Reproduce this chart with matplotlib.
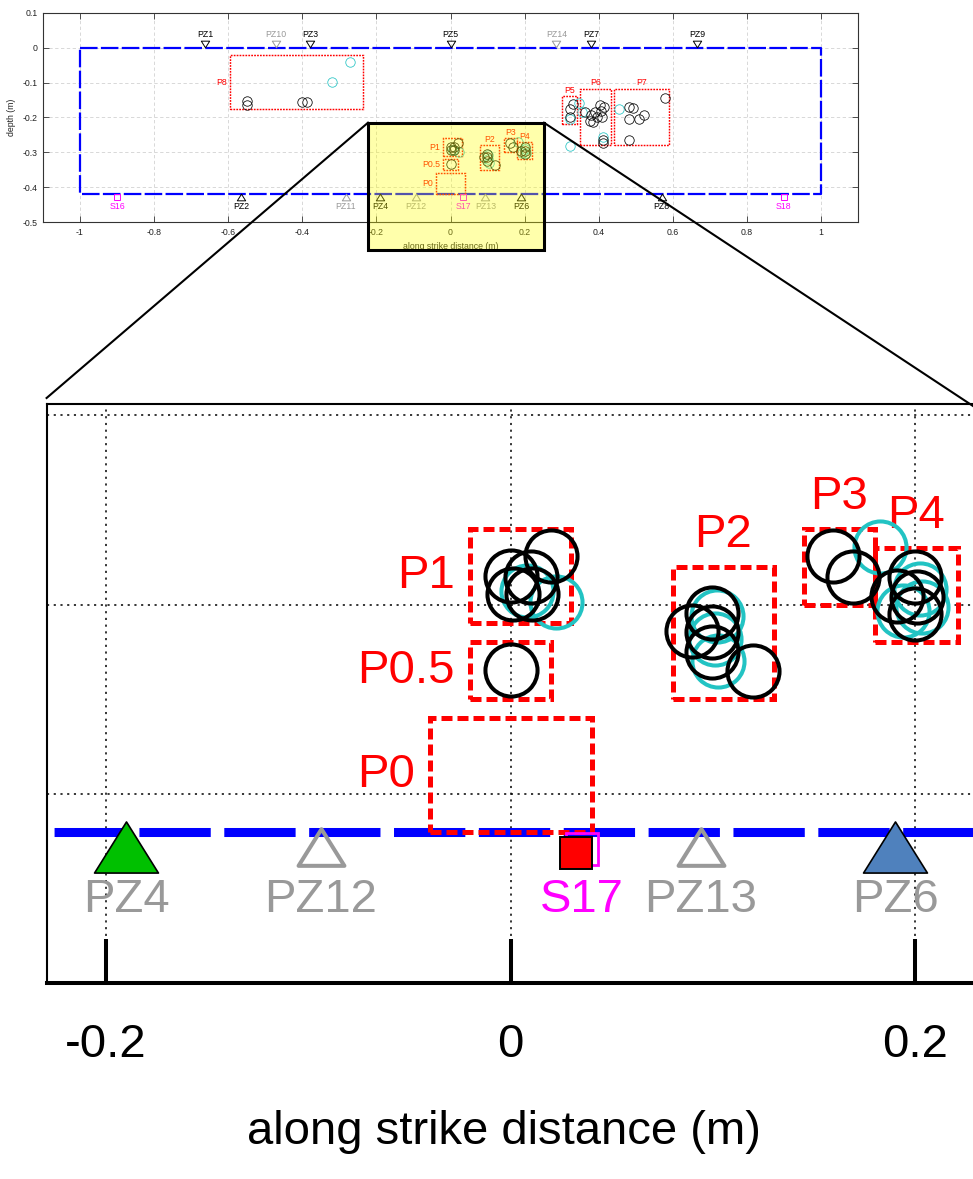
import numpy as np
import matplotlib
matplotlib.use("Agg")
import matplotlib.pyplot as plt
from matplotlib.path import Path
from matplotlib.patches import Rectangle
from matplotlib.lines import Line2D
from matplotlib.ticker import MultipleLocator, FuncFormatter
from matplotlib.transforms import ScaledTranslation

plt.rcParams["font.family"] = ["Liberation Sans", "DejaVu Sans"]
plt.rcParams["axes.unicode_minus"] = False

# ---------------- data ----------------
# outline of the instrumented fault patch (along strike x, depth y)
plane_x = [-1.0, 1.0, 1.0, -1.0, -1.0]
plane_y = [0.0, 0.0, -0.42, -0.42, 0.0]

# sensors on the upper edge
upper_names = ["PZ1", "PZ10", "PZ3", "PZ5", "PZ14", "PZ7", "PZ9"]
upper_x = [-0.662, -0.472, -0.378, 0.0, 0.286, 0.379, 0.665]
upper_y = 0.01
upper_label_y = 0.037

# sensors on the lower edge
lower_names = ["PZ2", "PZ11", "PZ4", "PZ12", "PZ13", "PZ6", "PZ8"]
lower_x = [-0.566, -0.283, -0.19, -0.094, 0.094, 0.19, 0.57]
lower_y = -0.428
lower_label_y = -0.456

# sensors that were not recording
idle_sensors = ["PZ10", "PZ14", "PZ11", "PZ12", "PZ13"]
# sensors picked out in the detail view
picked_sensors = ["PZ4", "PZ6"]

# active sources
source_names = ["S16", "S17", "S18"]
source_x = [-0.9, 0.035, 0.9]
source_y = -0.429
active_source_x = [0.0324]
active_source_y = [-0.4313]

# event patches
patch_names = ["P0", "P0.5", "P1", "P2", "P3", "P4", "P5", "P6", "P7", "P8"]
patch_xmin = [-0.04, -0.02, -0.02, 0.08, 0.145, 0.18, 0.301, 0.350, 0.440, -0.596]
patch_xmax = [0.04, 0.02, 0.03, 0.13, 0.180, 0.221, 0.341, 0.433, 0.590, -0.236]
patch_ymin = [-0.42, -0.35, -0.31, -0.35, -0.30, -0.32, -0.220, -0.278, -0.278, -0.177]
patch_ymax = [-0.36, -0.32, -0.26, -0.28, -0.26, -0.27, -0.138, -0.117, -0.117, -0.020]
patch_label_side = ["left", "left", "left", "top", "top", "top", "top", "top", "top", "left"]

# located events (black) and events of the second catalogue (cyan)
event_x = [-0.548, -0.548, -0.400, -0.388,
           0.0, 0.0099, 0.0013, 0.0104, 0.0198,
           0.0,
           0.0997, 0.0898, 0.0997, 0.0997, 0.1199,
           0.1595, 0.1694,
           0.1999, 0.1908, 0.2007, 0.1999,
           0.332, 0.323, 0.322,
           0.364, 0.379, 0.3755, 0.391, 0.3954, 0.404, 0.406, 0.409, 0.386, 0.415, 0.4115, 0.4115,
           0.483, 0.4924, 0.481, 0.5085, 0.521, 0.481, 0.5795]
event_y = [-0.152, -0.165, -0.155, -0.155,
           -0.2847, -0.2856, -0.2944, -0.2944, -0.2741,
           -0.3348,
           -0.3046, -0.3141, -0.3146, -0.3252, -0.3352,
           -0.2741, -0.2852,
           -0.2852, -0.2953, -0.2962, -0.3049,
           -0.161, -0.177, -0.200,
           -0.184, -0.193, -0.2095, -0.184, -0.200, -0.164, -0.181, -0.198, -0.212, -0.169, -0.265, -0.274,
           -0.171, -0.174, -0.203, -0.203, -0.193, -0.265, -0.145]

event2_x = [-0.320, -0.270,
            0.0224, 0.0079,
            0.1018, 0.1026, 0.1010,
            0.1826,
            0.1940, 0.2023, 0.2032,
            0.346, 0.322, 0.355, 0.322,
            0.4115, 0.456]
event2_y = [-0.099, -0.040,
            -0.2988, -0.2926,
            -0.3063, -0.3299, -0.3180,
            -0.2698,
            -0.3032, -0.2917, -0.3014,
            -0.158, -0.203, -0.185, -0.281,
            -0.2555, -0.177]

# ---------------- styling ----------------
RED = "#ff0000"
BLUE = "#0000ff"
GRAY = "#999999"
MAGENTA = "#ff00ff"
CYAN = "#22c3c3"
PICK_COLORS = {"PZ4": "#00c000", "PZ6": "#4f81bd"}

up_tri = Path([(0, 0.8), (-1, -0.8), (1, -0.8), (0, 0.8)],
              [Path.MOVETO, Path.LINETO, Path.LINETO, Path.CLOSEPOLY])
down_tri = Path([(0, -0.8), (-1, 0.8), (1, 0.8), (0, -0.8)],
                [Path.MOVETO, Path.LINETO, Path.LINETO, Path.CLOSEPOLY])

overview_style = dict(fs=6.3, ev_ms=6.8, ev_lw=0.55, box_lw=1.05, box_dash=(1.2, 0.8),
                      plane_lw=1.6, tri_ms=6.0, tri_lw=0.7, sq_ms=5.0, sq_lw=0.7,
                      off_left=1.8, off_top=2.4)
detail_style = dict(fs=34, ev_ms=37.5, ev_lw=2.9, box_lw=3.6, box_dash=(2.2, 1.0),
                    plane_lw=6.5, tri_ms=33, tri_lw=2.9, sq_ms=23, sq_lw=2.0,
                    off_left=11, off_top=14.4,
                    pick_ms=46, pick_lw=1.2)


def draw_view(ax, s, detail):
    fig = ax.figure
    x_lo, x_hi = ax.get_xlim()
    y_lo, y_hi = ax.get_ylim()
    if detail:
        # right part of the detail axes runs past the figure edge
        x_hi = x_lo + (x_hi - x_lo) * (W - 46.6) / 969.9

    def shown(x, y):
        return x_lo <= x <= x_hi and y_lo <= y <= y_hi

    ax.plot(plane_x, plane_y, color=BLUE, lw=s["plane_lw"], ls=(0, (7.9, 1.5)),
            zorder=2, solid_capstyle="butt", dash_capstyle="butt")

    for name, x0, x1, y0, y1, side in zip(patch_names, patch_xmin, patch_xmax,
                                          patch_ymin, patch_ymax, patch_label_side):
        ax.add_patch(Rectangle((x0, y0), x1 - x0, y1 - y0, fill=False, ec=RED,
                               lw=s["box_lw"], ls=(0, s["box_dash"]), zorder=3))
        if side == "left":
            lx, ly = x0, (y0 + y1) / 2
            tr = ax.transData + ScaledTranslation(-s["off_left"] / 72, 0, fig.dpi_scale_trans)
            ha, va = "right", "center"
        else:
            lx, ly = (x0 + x1) / 2, y1
            tr = ax.transData + ScaledTranslation(0, s["off_top"] / 72, fig.dpi_scale_trans)
            ha, va = "center", "baseline"
        if shown(lx, ly):
            ax.text(lx, ly, name, transform=tr, ha=ha, va=va, color=RED,
                    fontsize=s["fs"], clip_on=True, zorder=4)

    ax.plot(event2_x, event2_y, "o", ls="none", mfc="none", mec=CYAN,
            ms=s["ev_ms"], mew=s["ev_lw"], zorder=5)
    ax.plot(event_x, event_y, "o", ls="none", mfc="none", mec="black",
            ms=s["ev_ms"], mew=s["ev_lw"], zorder=6)

    for name, x in zip(upper_names, upper_x):
        col = GRAY if name in idle_sensors else "black"
        ax.plot([x], [upper_y], ls="none", marker=down_tri, ms=s["tri_ms"], mfc="none",
                mec=col, mew=s["tri_lw"], zorder=7)
        if shown(x, upper_label_y):
            ax.text(x, upper_label_y, name, color=col, fontsize=s["fs"], ha="center",
                    va="center", clip_on=True, zorder=7)

    for name, x in zip(lower_names, lower_x):
        col = GRAY if name in idle_sensors else "black"
        if detail and name in picked_sensors:
            ax.plot([x], [lower_y], ls="none", marker=up_tri, ms=s["pick_ms"],
                    mfc=PICK_COLORS[name], mec="black", mew=s["pick_lw"], zorder=7)
            col = GRAY
        else:
            ax.plot([x], [lower_y], ls="none", marker=up_tri, ms=s["tri_ms"], mfc="none",
                    mec=col, mew=s["tri_lw"], zorder=7)
        if shown(x, lower_label_y):
            ax.text(x, lower_label_y, name, color=col, fontsize=s["fs"], ha="center",
                    va="center", clip_on=True, zorder=7)

    for name, x in zip(source_names, source_x):
        ax.plot([x], [source_y], ls="none", marker="s", ms=s["sq_ms"], mfc="none",
                mec=MAGENTA, mew=s["sq_lw"], zorder=7)
        if shown(x, lower_label_y):
            ax.text(x, lower_label_y, name, color=MAGENTA, fontsize=s["fs"], ha="center",
                    va="center", clip_on=True, zorder=7)
    if detail:
        ax.plot(active_source_x, active_source_y, ls="none", marker="s", ms=s["sq_ms"],
                mfc=RED, mec="black", mew=1.4, zorder=8)


def tick_fmt(v, pos):
    if abs(v) < 1e-9:
        return "0"
    return f"{v:g}"


W, H = 973, 1179
fig = plt.figure(figsize=(W / 100, H / 100), dpi=100)

# ---- overview ----
ax1 = fig.add_axes([43 / W, 1 - 222 / H, (858 - 43) / W, (222 - 13) / H])
ax1.set_xlim(-1.1, 1.1)
ax1.set_ylim(-0.5, 0.1)
ax1.xaxis.set_major_locator(MultipleLocator(0.2))
ax1.yaxis.set_major_locator(MultipleLocator(0.1))
ax1.xaxis.set_major_formatter(FuncFormatter(tick_fmt))
ax1.yaxis.set_major_formatter(FuncFormatter(tick_fmt))
ax1.grid(True, color="#d2d2d2", lw=0.6, ls=(0, (4, 3)), zorder=0)
ax1.set_axisbelow(True)
ax1.tick_params(direction="in", top=True, right=True, length=4, width=0.6,
                labelsize=6.3, pad=4, color="#333333", labelcolor="#222222")
for sp in ax1.spines.values():
    sp.set_color("#333333")
    sp.set_linewidth(0.8)
ax1.set_xlabel("along strike distance (m)", fontsize=6.3, labelpad=4, color="#222222")
ax1.set_ylabel("depth (m)", fontsize=6.3, labelpad=4.8, color="#222222")
draw_view(ax1, overview_style, detail=False)

# ---- detail view ----
ax2 = fig.add_axes([46.6 / W, 1 - 983 / H, 969.9 / W, 579 / H])
ax2.set_xlim(-0.2294, 0.25)
ax2.set_ylim(-0.5, -0.194)
ax2.set_xticks([-0.2, 0.0, 0.2])
ax2.set_xticklabels(["-0.2", "0", "0.2"])
ax2.set_yticks([-0.4, -0.3, -0.2])
ax2.grid(True, color="black", lw=1.1, ls=(0, (1.4, 3.0)), zorder=0)
ax2.set_axisbelow(True)
ax2.tick_params(axis="x", direction="in", length=32, width=2.9, labelsize=34, pad=29,
                top=False)
ax2.tick_params(axis="y", left=False, labelleft=False, right=False)
ax2.spines["bottom"].set_linewidth(2.9)
ax2.spines["top"].set_linewidth(1.5)
ax2.spines["left"].set_linewidth(1.5)
ax2.spines["right"].set_visible(False)
draw_view(ax2, detail_style, detail=True)
fig.text(504 / W, 1 - 1132 / H, "along strike distance (m)", fontsize=34,
         ha="center", va="center")

# ---- magnifier frame linking the two views ----
bx0, bx1, by0, by1 = 368, 544, 122.7, 250
fig.patches.append(Rectangle((bx0 / W, 1 - by1 / H), (bx1 - bx0) / W, (by1 - by0) / H,
                             transform=fig.transFigure, fc="#ffff00", alpha=0.33,
                             ec="none", zorder=5))
fig.patches.append(Rectangle((bx0 / W, 1 - by1 / H), (bx1 - bx0) / W, (by1 - by0) / H,
                             transform=fig.transFigure, fill=False, ec="black",
                             lw=2.2, zorder=6))
fig.lines.append(Line2D([bx0 / W, 46.6 / W], [1 - by0 / H, 1 - 398 / H],
                        transform=fig.transFigure, color="black", lw=1.5, zorder=6))
fig.lines.append(Line2D([bx1 / W, 973 / W], [1 - by0 / H, 1 - 406 / H],
                        transform=fig.transFigure, color="black", lw=1.5, zorder=6))

fig.savefig("out.png", dpi=100)
